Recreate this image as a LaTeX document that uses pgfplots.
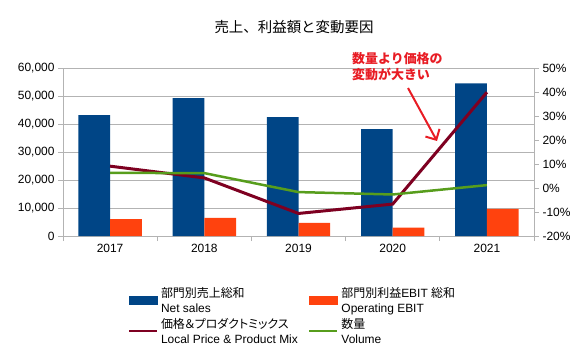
\documentclass[border=0pt]{standalone}
\usepackage{fontspec}
\setmainfont{Liberation Sans}
\newfontfamily\cjk{Noto Sans CJK JP}
\newfontfamily\cjkp[RawFeature=+palt]{Noto Sans CJK JP}
\usepackage{pgfplots}
\usepackage{pgfplotstable}
\pgfplotsset{compat=1.18}
\usetikzlibrary{arrows.meta}
\definecolor{cblue}{HTML}{004586}
\definecolor{corange}{HTML}{FF420E}
\definecolor{cmaroon}{HTML}{7E0021}
\definecolor{cgreen}{HTML}{579D1C}
\definecolor{cgrid}{HTML}{B3B3B3}
\definecolor{cred}{RGB}{232,28,36}

\pgfplotsset{
  linelegend/.style={legend image code/.code={\draw[##1, line width=2bp] (0bp,-3bp) -- (28bp,-3bp);}},
  bluelegend/.style={legend image code/.code={\fill[cblue] (0bp,-7bp) rectangle (28bp,1bp);}},
  orangelegend/.style={legend image code/.code={\fill[corange] (0bp,-7bp) rectangle (28bp,1bp);}},
}
\newcommand\legtext[2]{\raisebox{0pt}[0pt][0pt]{\begin{tabular}[t]{@{}l@{}}#1\\#2\end{tabular}}}

\pgfplotstableread{
x sales ebit price volume
0 43200 6000 9.1 6.3
1 49200 6500 4.2 6.2
2 42500 4700 -10.6 -1.7
3 38200 3000 -6.7 -2.7
4 54500 9700 39.9 1.2
}\data

\begin{document}
\begin{tikzpicture}[x=1bp,y=1bp]
\useasboundingbox (0,0) rectangle (587,353);
\begin{axis}[
  at={(63bp,117bp)}, anchor=south west,
  scale only axis, width=471bp, height=168bp,
  xmin=-0.5, xmax=4.5, ymin=0, ymax=60000,
  axis y line*=left, axis x line*=bottom,
  axis line style={cgrid, line width=0.8bp, -},
  tick style={cgrid, line width=0.8bp},
  tick align=outside, major tick length=5bp,
  ybar=0pt, bar width=31.7bp,
  xtick={-0.5,0.5,...,4.5},
  xticklabels={2017,2018,2019,2020,2021,{}},
  x tick label style={xshift=47.1bp},
  ytick={0,10000,...,60000},
  scaled y ticks=false,
  ymajorgrids, grid style={cgrid, line width=0.8bp},
  tick label style={font=\fontsize{12}{14}\selectfont, text=black},
  /pgf/number format/.cd, 1000 sep={,}, assume math mode=true,
]
\addplot[fill=cblue, draw=none] table[x=x,y=sales]{\data};
\addplot[fill=corange, draw=none] table[x=x,y=ebit]{\data};
\end{axis}
\begin{axis}[
  at={(63bp,117bp)}, anchor=south west,
  scale only axis, width=471bp, height=168bp,
  xmin=-0.5, xmax=4.5, ymin=-20, ymax=50,
  axis y line*=right, axis x line=none,
  axis line style={cgrid, line width=0.8bp, -},
  tick style={cgrid, line width=0.8bp},
  tick align=outside, major tick length=5bp,
  ytick={-20,-10,...,50},
  yticklabel={\pgfmathprintnumber{\tick}\%},
  tick label style={font=\fontsize{12}{14}\selectfont, text=black},
  /pgf/number format/assume math mode=true,
  legend columns=2,
  legend cell align=left,
  legend style={at={(0.138,-0.360)}, anchor=north west, draw=none, fill=none,
    inner sep=0pt, outer sep=0pt,
    font=\fontsize{12}{15}\selectfont,
    nodes={inner sep=0pt, outer sep=0pt, text height=0pt, text depth=0pt},
    /tikz/every even column/.append style={column sep=10.6bp},
    /tikz/every odd column/.append style={column sep=3bp},
    row sep=23bp},
]
\addlegendimage{bluelegend}
\addlegendentry{\legtext{\cjkp 部門別売上総和}{Net sales}}
\addlegendimage{orangelegend}
\addlegendentry{\legtext{{\cjkp 部門別利益}EBIT {\cjkp 総和}}{Operating EBIT}}
\addplot[cmaroon, line width=3bp, linelegend] table[x=x,y=price]{\data};
\addlegendentry{\legtext{\cjkp 価格＆プロダクトミックス}{Local Price \& Product Mix}}
\addplot[cgreen, line width=2.5bp, linelegend] table[x=x,y=volume]{\data};
\addlegendentry{\legtext{\cjkp 数量}{Volume}}
\end{axis}
\node[font=\cjk\fontsize{14.5}{17}\selectfont] at (294,326) {売上、利益額と変動要因};
\node[anchor=west, inner sep=0pt, text=cred, font=\cjk\bfseries\fontsize{13}{15}\selectfont] at (352,294) {数量より価格の};
\node[anchor=west, inner sep=0pt, text=cred, font=\cjk\bfseries\fontsize{13}{15}\selectfont] at (352,278.5) {変動が大きい};
\draw[cred, line width=2bp, -{Straight Barb[length=8bp,width=16bp]}] (408,265) -- (437,212);
\end{tikzpicture}
\end{document}
